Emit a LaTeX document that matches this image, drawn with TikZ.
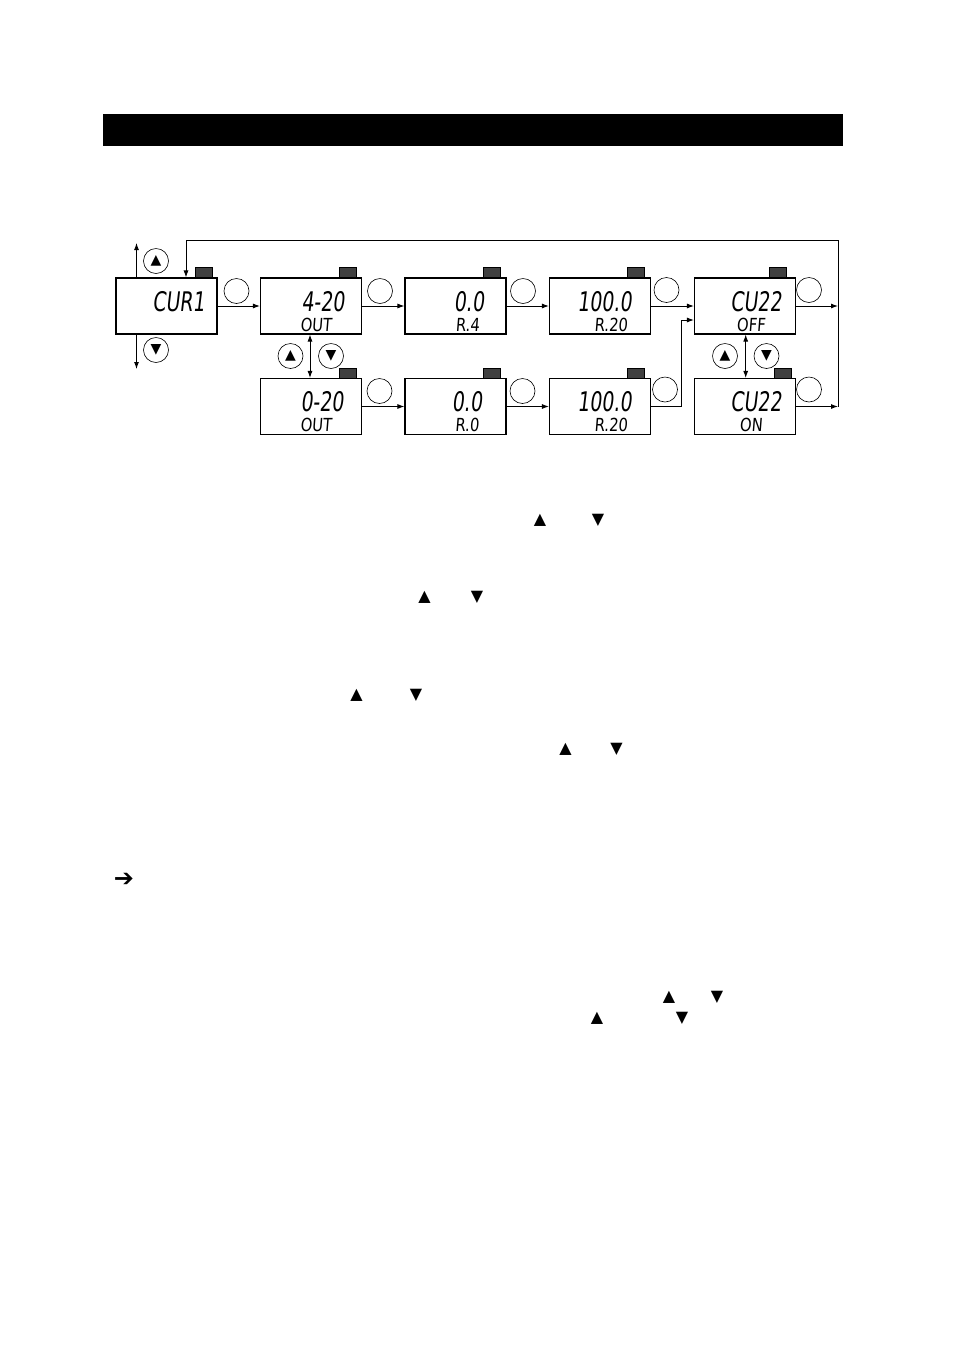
\documentclass[tikz,border=0pt]{standalone}
\usepackage{fontspec}
\usetikzlibrary{arrows.meta}
\newfontfamily\lcdfont[FakeStretch=0.7,FakeSlant=0.12]{DejaVu Sans}
\newfontfamily\lcdsmallfont[FakeStretch=0.82,FakeSlant=0.08]{DejaVu Sans}
\newfontfamily\symbolfont{DejaVu Sans}
\definecolor{keyGray}{RGB}{64,64,64}

\begin{document}
\begin{tikzpicture}[x=1pt, y=-1pt, >={Latex[length=7pt,width=5pt]}]
        \tikzstyle{boxStyle} = [draw=black, line width=1.1pt, minimum width=101pt, minimum height=56pt, inner sep=0pt]
        \tikzstyle{keyStyle} = [draw=black, fill=keyGray, line width=0.4pt, minimum width=17pt, minimum height=10pt, inner sep=0pt, anchor=south east]
        \tikzstyle{ringStyle} = [circle, draw=black, line width=0.6pt, minimum size=25pt, inner sep=0pt, font=\symbolfont\fontsize{14}{14}\selectfont]
        \tikzstyle{bigText} = [inner sep=0pt, font=\lcdfont\fontsize{27}{30}\selectfont]
        \tikzstyle{smallText} = [inner sep=0pt, font=\lcdsmallfont\fontsize{18}{20}\selectfont]
        \tikzstyle{triStyle} = [inner sep=0pt, font=\symbolfont\fontsize{16}{16}\selectfont]
        \tikzstyle{blackEdge} = [draw=black, line width=0.9pt]
        \useasboundingbox (0,0) rectangle (954,1350);
        % title bar
        \fill[black] (103,114) rectangle (843,146);
        % display boxes
        \node[boxStyle] (A) at (166.5,306) {};
        \node[boxStyle] (B) at (311,306) {};
        \node[boxStyle] (C) at (455.5,306) {};
        \node[boxStyle] (D) at (600,306) {};
        \node[boxStyle] (E) at (745,306) {};
        \node[boxStyle] (F) at (311,406.5) {};
        \node[boxStyle] (G) at (455.5,406.5) {};
        \node[boxStyle] (H) at (600,406.5) {};
        \node[boxStyle] (I) at (745,406.5) {};
        % keys on the boxes
        \node[keyStyle] (Ak) at ([xshift=-5pt]A.north east) {};
        \node[keyStyle] (Bk) at ([xshift=-6pt]B.north east) {};
        \node[keyStyle] (Ck) at ([xshift=-6pt]C.north east) {};
        \node[keyStyle] (Dk) at ([xshift=-7pt]D.north east) {};
        \node[keyStyle] (Ek) at ([xshift=-10pt]E.north east) {};
        \node[keyStyle] (Fk) at ([xshift=-6pt]F.north east) {};
        \node[keyStyle] (Gk) at ([xshift=-6pt]G.north east) {};
        \node[keyStyle] (Hk) at ([xshift=-7pt]H.north east) {};
        \node[keyStyle] (Ik) at ([xshift=-5pt]I.north east) {};
        % display texts
        \node[bigText] (A1) at (178.5,301.5) {CUR1};
        \node[bigText] (B1) at (323,301.5) {4-20};
        \node[smallText] (B2) at (316,324.5) {OUT};
        \node[bigText] (C1) at (469,301.5) {0.0};
        \node[smallText] (C2) at (467.5,324.5) {R.4};
        \node[bigText] (D1) at (604.5,301.5) {100.0};
        \node[smallText] (D2) at (611,324.5) {R.20};
        \node[bigText] (E1) at (756,301.5) {CU22};
        \node[smallText] (E2) at (751,324.5) {OFF};
        \node[bigText] (F1) at (322,402) {0-20};
        \node[smallText] (F2) at (316,424.5) {OUT};
        \node[bigText] (G1) at (467,402) {0.0};
        \node[smallText] (G2) at (467,424.5) {R.0};
        \node[bigText] (H1) at (604.5,402) {100.0};
        \node[smallText] (H2) at (611,424.5) {R.20};
        \node[bigText] (I1) at (756,402) {CU22};
        \node[smallText] (I2) at (751,424.5) {ON};
        % empty rings
        \node[ringStyle] (Ar) at (236.5,291) {};
        \node[ringStyle] (Br) at (380,291) {};
        \node[ringStyle] (Cr) at (523,291) {};
        \node[ringStyle] (Dr) at (666.5,290) {};
        \node[ringStyle] (Er) at (809,290) {};
        \node[ringStyle] (Fr) at (379.5,391) {};
        \node[ringStyle] (Gr) at (522.5,391) {};
        \node[ringStyle] (Hr) at (665,389.5) {};
        \node[ringStyle] (Ir) at (809,389.5) {};
        % up and down buttons
        \node[ringStyle] (upA) at (156,261) {▲};
        \node[ringStyle] (downA) at (156,350) {▼};
        \node[ringStyle] (upB) at (290.5,356) {▲};
        \node[ringStyle] (downB) at (331,356) {▼};
        \node[ringStyle] (upE) at (725,356) {▲};
        \node[ringStyle] (downE) at (766.5,356) {▼};
        % loop corners
        \coordinate (aUp) at (136.5,243);
        \coordinate (aDown) at (136.5,369);
        \coordinate (hJoin) at (681.5,320);
        \coordinate (loopTop) at (838,306);
        \coordinate (loopBot) at (838,406.5);
        \coordinate (loopTR) at (838,240);
        \coordinate (loopTL) at (186,240);
        % connectors
        \path[blackEdge, ->] (A) edge (B);
        \path[blackEdge, ->] (B) edge (C);
        \path[blackEdge, ->] (C) edge (D);
        \path[blackEdge, ->] (D) edge (E);
        \path[blackEdge, ->] (F) edge (G);
        \path[blackEdge, ->] (G) edge (H);
        \draw[blackEdge, ->] (H.east) -| (hJoin) -- (hJoin -| E.west);
        \draw[blackEdge, ->] (E.east) -- (loopTop);
        \draw[blackEdge, ->] (I.east) -- (loopBot);
        \draw[blackEdge, ->] (loopBot) -- (loopTR) -- (loopTL) -- (loopTL |- A.north);
        \draw[blackEdge, ->] (aUp |- A.north) -- (aUp);
        \draw[blackEdge, ->] (aDown |- A.south) -- (aDown);
        \draw[blackEdge, <->] ([xshift=-1pt]B.south) -- ([xshift=-1pt]F.north);
        \draw[blackEdge, <->] ([xshift=0.7pt]E.south) -- ([xshift=0.7pt]I.north);
        % triangles left in the text
        \node[triStyle] (t1) at (540,520) {▲};
        \node[triStyle] (t2) at (598,520) {▼};
        \node[triStyle] (t3) at (424.5,597) {▲};
        \node[triStyle] (t4) at (477,597) {▼};
        \node[triStyle] (t5) at (356.5,695) {▲};
        \node[triStyle] (t6) at (416,695) {▼};
        \node[triStyle] (t7) at (565.5,749) {▲};
        \node[triStyle] (t8) at (616.5,749) {▼};
        \node[triStyle] (t9) at (669,997) {▲};
        \node[triStyle] (t10) at (717,997) {▼};
        \node[triStyle] (t11) at (597,1018) {▲};
        \node[triStyle] (t12) at (682,1018) {▼};
        \node[triStyle, font=\symbolfont\bfseries\fontsize{24}{24}\selectfont] (pointer) at (124,880) {➔};
    \end{tikzpicture}
\end{document}
